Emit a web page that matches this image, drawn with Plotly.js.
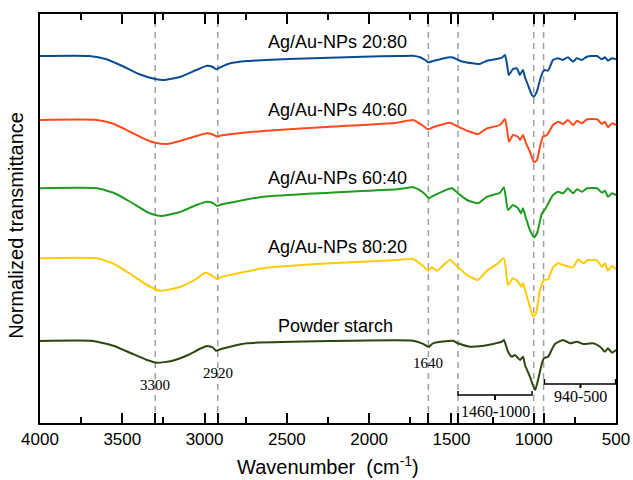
<!DOCTYPE html>
<html><head><meta charset="utf-8">
<script src="https://cdn.plot.ly/plotly-3.0.1.min.js"></script>
<style>html,body{margin:0;padding:0;background:#fff}#chart{width:633px;height:480px}</style>
</head><body><div id="chart"></div>
<script>
// Wavenumber (cm-1) and offset normalized transmittance (a.u.) for each spectrum
const wn_2080 = [4000,3700,3600,3500,3400,3300,3250,3150,3050,2985,2950,2930,2900,2845,2742,2440,2038,1813,1734,1690,1660,1640,1612,1509,1490,1460,1430,1369,1327,1284,1224,1193,1175,1163,1151,1126,1102,1084,1066,1054,1035,1011,1000,981,962,944,932,913,883,853,823,792,762,738,707,677,616,586,567,549,524,500];
const t_2080 = [367,367,364,357,349,344,343,346,353,357.3,356,353.7,356,359.7,362,364.3,366.3,367,367.3,365.7,363,360.7,362,365.7,365.5,363,361.3,359.7,359,362.3,364,365.3,368,359.7,348,354,354.7,348,353,346.3,338,328,326.3,331.3,343,351.3,353,352.3,363,364.7,363,365.7,361.3,364.7,363,366.3,367,363.7,365.7,362.3,364.7,363.7];

const wn_4060 = [4000,3654,3550,3450,3350,3300,3228,3150,3050,2985,2950,2924,2900,2845,2645,2238,1831,1734,1679,1642,1612,1509,1460,1405,1339,1284,1205,1174,1150,1126,1095,1083,1065,1047,1023,998,980,962,944,919,883,852,822,792,761,737,707,676,615,585,567,549,524,500];
const t_4060 = [303,303,299,291,283,280.3,279,282,287,289.7,288.5,286.3,287.5,288.7,292,296.3,300.3,303,298,293.7,295.7,300.3,296.3,292.3,289,294.7,298,304,281.3,288,286.3,283,288,279.7,271.3,260.7,263,276.3,286.3,288,298,301.3,299,303,298,302.3,299.7,303.7,303.7,299,301.3,295.7,299.7,298];

const wn_6040 = [4000,3654,3550,3450,3350,3300,3259,3150,3050,2985,2950,2924,2900,2845,2645,2238,1831,1734,1679,1642,1636,1612,1497,1460,1405,1339,1284,1205,1181,1156,1126,1095,1077,1065,1047,1023,998,980,950,931,883,852,822,792,761,737,707,676,615,585,567,549,524,500];
const t_6040 = [234.7,234.7,230,221,211,208,207,211,218,221.3,220,217,218.5,220.3,226.3,230.3,233.7,235.7,231.3,225.7,224.7,227,234.7,229.7,223,219.7,226.3,230.3,235.7,213,218,214.7,209.7,214.7,204.7,193,185.7,189.7,209.7,213.7,228,231.3,229.7,234.7,229.7,233.7,231.3,234.7,234.7,230.3,232.3,226.3,229.7,228];

const wn_8020 = [4000,3654,3550,3450,3350,3271,3150,3050,2997,2960,2924,2900,2845,2645,2238,1831,1734,1679,1642,1636,1618,1588,1509,1460,1405,1339,1284,1223,1181,1156,1126,1095,1077,1065,1047,1023,1004,986,962,938,913,883,852,822,761,731,700,670,615,585,567,549,524,500];
const t_8020 = [164.7,164.7,159,149,138,132.3,136,144,150.3,148,144,146,148,154.7,159.7,163,164,158,152.3,153,155.7,152.3,163,155.7,148,143,152.3,159,164.7,138,144.7,141.3,136.3,139.7,129.7,116.3,106.3,109.7,133,143,143.7,155.7,159.7,158,155.7,163.7,159.7,163,162.3,156.3,159.7,152.3,157,153.7];

const wn_starch = [4000,3678,3550,3450,3350,3289,3200,3100,3030,2985,2950,2931,2900,2845,2742,2238,1733,1679,1642,1636,1612,1490,1460,1387,1314,1247,1193,1181,1156,1132,1114,1083,1065,1053,1023,992,974,950,938,913,871,822,780,737,700,640,597,567,549,524,500];
const t_starch = [82,82,77,70,63,60.3,62,68,74,77,75.5,72.3,74,76.3,79.7,82,82.3,79.7,76.3,76.3,79.7,82.3,79.7,76.3,77,79,81.3,83,71.3,66.3,68,63,66.3,58,46.3,33,43,59.7,64.7,66.3,79,83,79.7,81.3,79,79.7,76.3,71.3,74.7,70.3,73];

const seriesNames = ['Ag/Au-NPs 20:80','Ag/Au-NPs 40:60','Ag/Au-NPs 60:40','Ag/Au-NPs 80:20','Powder starch'];
const seriesColors = ['#0a4d94','#ff4a1c','#1f9c1f','#ffcb05','#2c470d'];
const seriesX = [wn_2080, wn_4060, wn_6040, wn_8020, wn_starch];
const seriesY = [t_2080, t_4060, t_6040, t_8020, t_starch];
const labelPos = [[2190,381],[2190,313],[2190,245],[2190,176],[2205,97]];

const markerLines = [3300,2920,1640,1460,1000,940];
const markerLabels = [['3300',3300,38],['2920',2920,50],['1640',1640,60]];
const majorTicks = [4000,3500,3000,2500,2000,1500,1000,500];

const traces = seriesNames.map((n,i)=>({
  type:'scatter', mode:'lines', name:n, x:seriesX[i], y:seriesY[i],
  line:{color:seriesColors[i], width:2, shape:'spline', smoothing:0.5}, hoverinfo:'skip'
}));

const tickvals = majorTicks.concat(markerLines.filter(v=>majorTicks.indexOf(v)<0));
const ticktext = tickvals.map(v=>majorTicks.indexOf(v)>=0 ? String(v) : ' ');

const shapes = markerLines.map(w=>({type:'line', xref:'x', yref:'paper', x0:w, x1:w, y0:0, y1:1,
  line:{color:'#a0a0a0', width:1.5, dash:'6px,5px'}, layer:'below'}));
// brackets
shapes.push({type:'path', xref:'x', yref:'y', path:'M1460,32 L1460,28 L1010,28 L1010,32', line:{color:'#000', width:1.5}});
shapes.push({type:'line', xref:'x', yref:'y', x0:1235, x1:1235, y0:28, y1:23, line:{color:'#000', width:2}});
shapes.push({type:'path', xref:'x', yref:'y', path:'M935,44 L935,39 L502,39 L502,44', line:{color:'#000', width:1.5}});
shapes.push({type:'line', xref:'x', yref:'y', x0:716, x1:716, y0:39, y1:35, line:{color:'#000', width:2}});

const annotations = seriesNames.map((n,i)=>({x:labelPos[i][0], y:labelPos[i][1], xref:'x', yref:'y', text:n, showarrow:false,
  font:{family:'Liberation Sans, Arial, sans-serif', size:18, color:'#000'}}));
markerLabels.forEach(m=>annotations.push({x:m[1], y:m[2], xref:'x', yref:'y', text:m[0], showarrow:false,
  font:{family:'Liberation Serif, Times New Roman, serif', size:15, color:'#000'}}));
annotations.push({x:1235, y:12, xref:'x', yref:'y', text:'1460-1000', showarrow:false, font:{family:'Liberation Serif, serif', size:16, color:'#000'}});
annotations.push({x:718, y:27, xref:'x', yref:'y', text:'940-500', showarrow:false, font:{family:'Liberation Serif, serif', size:16, color:'#000'}});
annotations.push({x:-0.042, y:0.484, xref:'paper', yref:'paper', xanchor:'center', yanchor:'middle', text:'Normalized transmittance', textangle:-90, showarrow:false,
  font:{family:'Liberation Sans, Arial, sans-serif', size:20, color:'#000'}});
annotations.push({x:0.5, y:-0.104, xref:'paper', yref:'paper', xanchor:'center', yanchor:'middle', text:'Wavenumber&nbsp;&nbsp;(cm<sup>-1</sup>)', showarrow:false,
  font:{family:'Liberation Sans, Arial, sans-serif', size:20, color:'#000'}});

const layout = {
  width:633, height:480, margin:{l:40, r:17, t:14, b:57},
  paper_bgcolor:'#fff', plot_bgcolor:'#fff', showlegend:false,
  xaxis:{range:[4000,500], tickmode:'array', tickvals:tickvals, ticktext:ticktext,
    ticks:'inside', ticklen:10, tickwidth:2, tickcolor:'#000', mirror:'allticks', showline:true, linecolor:'#000', linewidth:2,
    showgrid:false, zeroline:false, tickfont:{family:'Liberation Sans, Arial, sans-serif', size:17, color:'#000'},
    minor:{tickmode:'linear', tick0:0, dtick:250, ticks:'inside', ticklen:6, tickwidth:2, tickcolor:'#000', showgrid:false}},
  yaxis:{range:[0,409], showticklabels:false, ticks:'', showline:true, mirror:true, linecolor:'#000', linewidth:2,
    showgrid:false, zeroline:false},
  shapes:shapes, annotations:annotations
};
Plotly.newPlot('chart', traces, layout, {staticPlot:true, displayModeBar:false});
</script></body></html>
